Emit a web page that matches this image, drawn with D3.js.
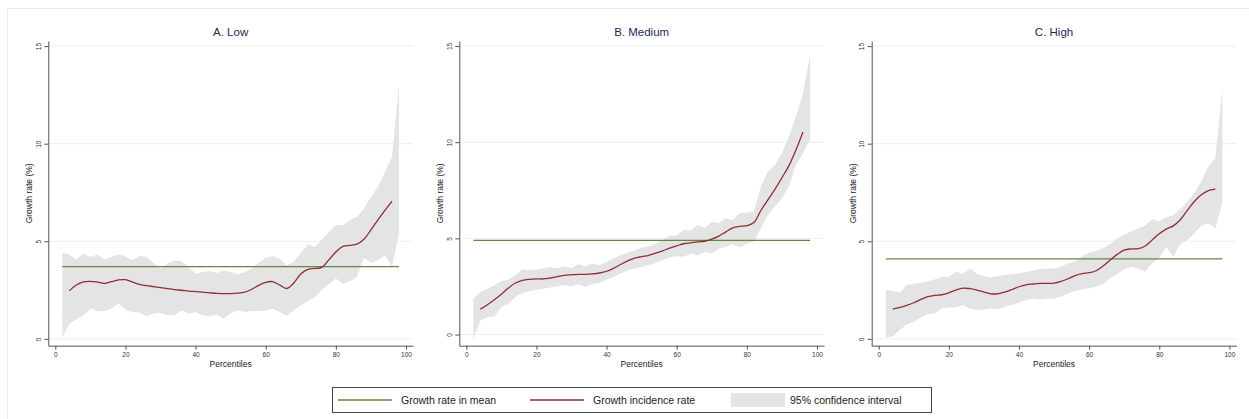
<!DOCTYPE html>
<html>
<head>
<meta charset="utf-8">
<script src="https://cdn.jsdelivr.net/npm/d3@7"></script>
<style>
  html, body { margin: 0; padding: 0; background: #fff; }
  svg { display: block; font-family: "Liberation Sans", Arial, Helvetica, sans-serif; }
</style>
</head>
<body>
<svg id="chart" width="1249" height="419"></svg>
<script>
// Growth incidence curves by group, with 95% confidence bands and mean growth.
const panelTitles = ["A. Low", "B. Medium", "C. High"];

// Percentiles on which the confidence band and the incidence curve are evaluated
const ciPct = [2, 4, 6, 8, 10, 12, 14, 16, 18, 20, 22, 24, 26, 28, 30, 32, 34, 36, 38, 40,
  42, 44, 46, 48, 50, 52, 54, 56, 58, 60, 62, 64, 66, 68, 70, 72, 74, 76, 78, 80,
  82, 84, 86, 88, 90, 92, 94, 96, 98];
const gicPct = [4, 6, 8, 10, 12, 14, 16, 18, 20, 22, 24, 26, 28, 30, 32, 34, 36, 38, 40,
  42, 44, 46, 48, 50, 52, 54, 56, 58, 60, 62, 64, 66, 68, 70, 72, 74, 76, 78, 80,
  82, 84, 86, 88, 90, 92, 94, 96];

// Growth rate in mean, per group (%)
const meanGrowth = [3.7, 4.9, 4.1];

// A. Low
const lowGic = [2.46, 2.76, 2.92, 2.95, 2.91, 2.84, 2.93, 3.02, 3.03, 2.91, 2.79, 2.73, 2.68, 2.63,
  2.57, 2.52, 2.49, 2.45, 2.42, 2.39, 2.36, 2.33, 2.32, 2.32, 2.34, 2.39, 2.54, 2.74, 2.90, 2.93,
  2.75, 2.58, 2.86, 3.32, 3.56, 3.61, 3.66, 4.05, 4.45, 4.74, 4.79, 4.85, 5.10, 5.58, 6.10, 6.58, 7.05];
const lowUpper = [4.40, 4.32, 4.06, 4.37, 4.20, 4.32, 4.06, 4.20, 4.32, 4.23, 4.03, 4.25, 4.20, 3.89,
  3.60, 3.86, 4.03, 3.96, 3.69, 3.34, 3.43, 3.48, 3.38, 3.52, 3.43, 3.31, 3.41, 3.60, 3.89, 4.16,
  4.23, 4.11, 3.77, 3.94, 4.40, 4.85, 4.71, 5.09, 5.48, 5.82, 5.82, 6.08, 6.25, 6.67, 7.27, 7.78,
  8.55, 9.32, 13.0];
const lowLower = [0.10, 0.75, 1.01, 1.21, 1.55, 1.43, 1.42, 1.55, 1.81, 1.50, 1.38, 1.35, 1.16, 1.30,
  1.33, 1.21, 1.21, 1.47, 1.30, 1.38, 1.21, 1.16, 1.25, 1.04, 1.30, 1.47, 1.38, 1.42, 1.43, 1.47,
  1.54, 1.38, 1.19, 1.47, 1.72, 1.93, 2.15, 2.49, 2.80, 3.09, 2.83, 2.95, 3.17, 4.16, 3.89, 4.03,
  4.28, 3.70, 5.40];

// B. Medium
const mediumGic = [1.32, 1.55, 1.81, 2.09, 2.42, 2.68, 2.82, 2.87, 2.89, 2.89, 2.94, 3.01, 3.08, 3.11,
  3.13, 3.13, 3.15, 3.20, 3.29, 3.45, 3.64, 3.83, 3.97, 4.05, 4.12, 4.23, 4.35, 4.49, 4.61, 4.72,
  4.77, 4.82, 4.85, 4.96, 5.12, 5.34, 5.55, 5.62, 5.66, 5.82, 6.45, 7.00, 7.55, 8.15, 8.78, 9.60, 10.53];
const mediumUpper = [1.86, 2.21, 2.38, 2.56, 2.78, 2.85, 3.08, 3.38, 3.34, 3.38, 3.43, 3.51, 3.43, 3.55,
  3.46, 3.65, 3.55, 3.69, 3.60, 3.78, 3.95, 4.12, 4.25, 4.38, 4.52, 4.59, 4.73, 4.91, 5.15, 5.15,
  5.45, 5.40, 5.70, 5.55, 5.85, 5.80, 6.05, 5.95, 6.30, 6.35, 6.40, 7.70, 8.47, 8.82, 9.43, 10.30,
  11.35, 12.56, 14.48];
const mediumLower = [-0.23, 0.73, 0.90, 0.94, 1.43, 1.57, 1.95, 2.16, 2.26, 2.33, 2.38, 2.44, 2.51, 2.56,
  2.51, 2.61, 2.47, 2.64, 2.68, 2.85, 2.99, 3.17, 3.34, 3.43, 3.51, 3.60, 3.72, 3.86, 4.00, 4.07,
  4.04, 4.21, 4.12, 4.30, 4.21, 4.47, 4.56, 4.70, 4.52, 4.73, 4.82, 5.52, 6.21, 6.65, 7.08, 7.69,
  8.82, 9.43, 10.13];

// C. High
const highGic = [1.52, 1.61, 1.71, 1.85, 2.02, 2.16, 2.23, 2.26, 2.36, 2.50, 2.60, 2.57, 2.50, 2.40,
  2.31, 2.31, 2.40, 2.53, 2.67, 2.77, 2.81, 2.84, 2.84, 2.86, 2.95, 3.08, 3.24, 3.34, 3.39, 3.49,
  3.73, 4.04, 4.33, 4.55, 4.61, 4.62, 4.76, 5.07, 5.38, 5.62, 5.79, 6.10, 6.58, 7.04, 7.38, 7.59, 7.67];
const highUpper = [2.50, 2.47, 2.36, 2.76, 2.81, 2.88, 2.93, 3.05, 3.18, 3.18, 3.44, 3.32, 3.61, 3.32,
  3.22, 3.15, 3.22, 3.27, 3.32, 3.36, 3.44, 3.49, 3.58, 3.61, 3.60, 3.70, 3.87, 3.96, 4.25, 4.42,
  4.52, 4.64, 4.86, 5.15, 5.33, 5.50, 5.67, 5.79, 6.13, 6.01, 6.23, 6.35, 6.64, 7.04, 7.47, 8.07,
  8.84, 9.26, 12.85];
const highLower = [0.07, 0.14, 0.45, 0.75, 0.87, 1.10, 1.27, 1.30, 1.56, 1.61, 1.61, 1.73, 1.56, 1.47,
  1.51, 1.56, 1.52, 1.64, 1.73, 1.85, 1.99, 2.07, 2.02, 2.05, 2.07, 2.16, 2.33, 2.45, 2.53, 2.59,
  2.67, 2.81, 3.10, 3.32, 3.56, 3.70, 3.61, 3.44, 3.87, 4.16, 4.69, 4.21, 4.86, 5.07, 5.41, 5.79,
  5.92, 5.67, 6.95];

const xTicks = [0, 20, 40, 60, 80, 100];
const yTicks = [0, 5, 10, 15];
const legendLabels = ["Growth rate in mean", "Growth incidence rate", "95% confidence interval"];

const panels = [
  { title: panelTitles[0], mean: meanGrowth[0], gic: lowGic, upper: lowUpper, lower: lowLower },
  { title: panelTitles[1], mean: meanGrowth[1], gic: mediumGic, upper: mediumUpper, lower: mediumLower },
  { title: panelTitles[2], mean: meanGrowth[2], gic: highGic, upper: highUpper, lower: highLower }
];

const COLORS = {
  mean: "#62893f",
  gic: "#8e2f33",
  band: "#e4e4e4",
  axis: "#555",
  grid: "#e7f0f0",
  title: "#1c2a56",
  text: "#222"
};

const svg = d3.select("#chart");

// faint outer frame of the graph region
svg.append("path")
  .attr("d", "M7.5,419 V8.5 H1249")
  .attr("fill", "none")
  .attr("stroke", "#ededed");

const plotLefts = [48.3, 459.3, 871.7];
const plotW = 364.7;
const plotTop = 41;
const plotBottom = 345.7;

panels.forEach((p, i) => {
  const left = plotLefts[i];
  const g = svg.append("g");

  const x = d3.scaleLinear().domain([-2, 102]).range([left, left + plotW]);
  const yMin = Math.min(0, d3.min(p.lower)) - 0.35;
  const y = d3.scaleLinear().domain([yMin, 15.26]).range([plotBottom, plotTop]);

  // horizontal grid
  g.append("g").selectAll("line").data(yTicks).join("line")
    .attr("x1", left).attr("x2", left + plotW)
    .attr("y1", d => y(d)).attr("y2", d => y(d))
    .attr("stroke", COLORS.grid).attr("stroke-width", 1);

  // confidence band
  const band = d3.area()
    .x((d, k) => x(ciPct[k]))
    .y0((d, k) => y(p.lower[k]))
    .y1((d, k) => y(p.upper[k]));
  g.append("path").datum(p.upper)
    .attr("d", band)
    .attr("fill", COLORS.band);

  // growth rate in mean
  g.append("line")
    .attr("x1", x(ciPct[0])).attr("x2", x(ciPct[ciPct.length - 1]))
    .attr("y1", y(p.mean)).attr("y2", y(p.mean))
    .attr("stroke", COLORS.mean).attr("stroke-width", 1.3);

  // growth incidence curve
  const line = d3.line()
    .x((d, k) => x(gicPct[k]))
    .y(d => y(d))
    .curve(d3.curveCatmullRom.alpha(0.5));
  g.append("path").datum(p.gic)
    .attr("d", line)
    .attr("fill", "none")
    .attr("stroke", COLORS.gic).attr("stroke-width", 1.3);

  // axes
  const xAxis = g.append("g")
    .attr("transform", `translate(0,${plotBottom})`)
    .call(d3.axisBottom(x).tickValues(xTicks).tickSize(4).tickSizeOuter(0).tickPadding(3));
  xAxis.selectAll("text").attr("font-size", 6.5).attr("fill", "#333")
    .attr("font-family", "Liberation Sans, Arial, sans-serif");

  const yAxis = g.append("g")
    .attr("transform", `translate(${left},0)`)
    .call(d3.axisLeft(y).tickValues(yTicks).tickSize(4).tickSizeOuter(0));
  yAxis.selectAll("text")
    .attr("x", null).attr("dy", null)
    .attr("text-anchor", "middle")
    .attr("transform", "translate(-7.6,0) rotate(-90)")
    .attr("font-size", 6.5).attr("fill", "#333")
    .attr("font-family", "Liberation Sans, Arial, sans-serif");

  [xAxis, yAxis].forEach(a => {
    a.select(".domain").attr("stroke", COLORS.axis).attr("stroke-width", 1);
    a.selectAll(".tick line").attr("stroke", COLORS.axis).attr("stroke-width", 1);
  });

  // titles
  g.append("text")
    .attr("x", left + plotW / 2).attr("y", 35.8)
    .attr("text-anchor", "middle")
    .attr("font-size", 11.5).attr("fill", COLORS.title)
    .text(p.title);

  g.append("text")
    .attr("x", left + plotW / 2).attr("y", 366.5)
    .attr("text-anchor", "middle")
    .attr("font-size", 8.5).attr("fill", COLORS.text)
    .text("Percentiles");

  g.append("text")
    .attr("transform", `translate(${left - 16},${(plotTop + plotBottom) / 2}) rotate(-90)`)
    .attr("text-anchor", "middle")
    .attr("font-size", 8.5).attr("fill", COLORS.text)
    .text("Growth rate (%)");
});

// legend
const legend = svg.append("g");
legend.append("rect")
  .attr("x", 332.5).attr("y", 387.5).attr("width", 599).attr("height", 25)
  .attr("fill", "#fff").attr("stroke", "#444").attr("stroke-width", 1);

const legendItems = [
  { label: legendLabels[0], kind: "line", color: COLORS.mean, x: 338 },
  { label: legendLabels[1], kind: "line", color: COLORS.gic, x: 530 },
  { label: legendLabels[2], kind: "band", color: COLORS.band, x: 731 }
];
legendItems.forEach(item => {
  if (item.kind === "line") {
    legend.append("line")
      .attr("x1", item.x).attr("x2", item.x + 54)
      .attr("y1", 400).attr("y2", 400)
      .attr("stroke", item.color).attr("stroke-width", 1.3);
  } else {
    legend.append("rect")
      .attr("x", item.x).attr("y", 393).attr("width", 54).attr("height", 14)
      .attr("fill", item.color);
  }
  legend.append("text")
    .attr("x", item.x + (item.kind === "line" ? 63 : 59)).attr("y", 403.8)
    .attr("font-size", 10.5).attr("fill", COLORS.text)
    .text(item.label);
});
</script>
</body>
</html>
